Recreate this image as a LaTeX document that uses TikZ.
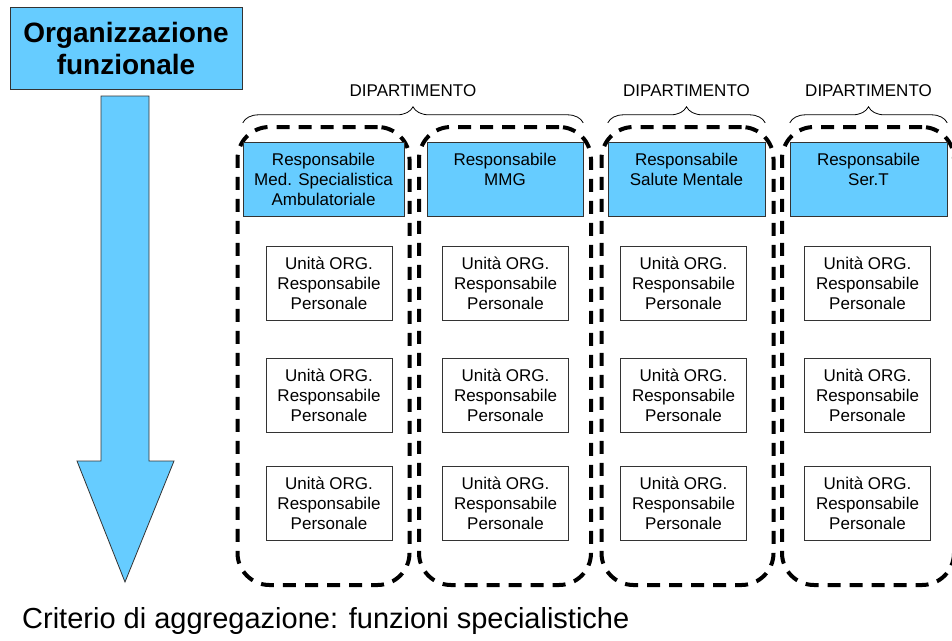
\documentclass[tikz,border=0pt]{standalone}
\usepackage{fontspec}
\setmainfont{Liberation Sans}
\usepackage{tikz}
\usetikzlibrary{shapes,positioning,decorations.pathreplacing}
\definecolor{azz}{HTML}{66CCFF}
\tikzset{resp/.style={rectangle,draw=black!80,fill=azz,minimum width=157pt,minimum height=74pt,align=center,inner sep=0pt,font=\fontsize{17}{20}\selectfont},
unita/.style={rectangle,draw=black!80,fill=white,minimum width=126pt,minimum height=74pt,align=center,inner sep=0pt,font=\fontsize{17}{20}\selectfont},
dip/.style={rectangle,draw,line width=4pt,dash pattern=on 13pt off 9pt,rounded corners=32pt,minimum width=172pt,minimum height=458pt},
graffa/.style={decorate,decoration={brace,amplitude=16pt},line width=0.8pt}}

\begin{document}
\begin{tikzpicture}[x=1pt,y=-1pt]
        \useasboundingbox (0,0) rectangle (952,640);
        \node[rectangle,draw=black!80,fill=azz,line width=1pt,minimum width=232pt,minimum height=82pt,align=center,font=\fontsize{28}{32}\selectfont\bfseries] (titolo) at (126,48) {Organizzazione\\funzionale};
        \draw[fill=azz,draw=black!80,line width=0.8pt] (101,96) -- (149,96) -- (149,461) -- (174,461) -- (125,582) -- (77,461) -- (101,461) -- cycle;

        \node[dip] (d1) at (323.5,356) {};
        \node[dip] (d2) at (505,356) {};
        \node[dip] (d3) at (687.5,356) {};
        \node[dip] (d4) at (868,356) {};

        \node[resp,minimum width=161pt] (hd1) at (323.5,179) {Responsabile\\Med. Specialistica\\Ambulatoriale};
        \node[resp,minimum width=156pt] (hd2) at (505,179) {Responsabile\\MMG\\\mbox{}};
        \node[resp] (hd3) at (686.5,179) {Responsabile\\Salute Mentale\\\mbox{}};
        \node[resp] (hd4) at (868.5,179) {Responsabile\\Ser.T\\\mbox{}};

        \foreach \c/\x in {1/329,2/505.5,3/683.5,4/867.5}
            \foreach \r/\y in {1/283,2/395,3/503.5}
                \node[unita] (u\c\r) at (\x,\y) {Unità ORG.\\Responsabile\\Personale};

        \draw[graffa] ([yshift=19pt]hd1.north west) -- node[above=26pt,inner sep=0pt,font=\fontsize{17}{20}\selectfont]{DIPARTIMENTO} ([yshift=19pt]hd2.north east);
        \draw[graffa] ([yshift=19pt]hd3.north west) -- node[above=26pt,inner sep=0pt,font=\fontsize{17}{20}\selectfont]{DIPARTIMENTO} ([yshift=19pt]hd3.north east);
        \draw[graffa] ([yshift=19pt]hd4.north west) -- node[above=26pt,inner sep=0pt,font=\fontsize{17}{20}\selectfont]{DIPARTIMENTO} ([yshift=19pt]hd4.north east);

        \node[anchor=base west,inner sep=0pt,font=\fontsize{29}{32}\selectfont] (criterio) at (22,628) {Criterio di aggregazione: funzioni specialistiche};
\end{tikzpicture}
\end{document}
